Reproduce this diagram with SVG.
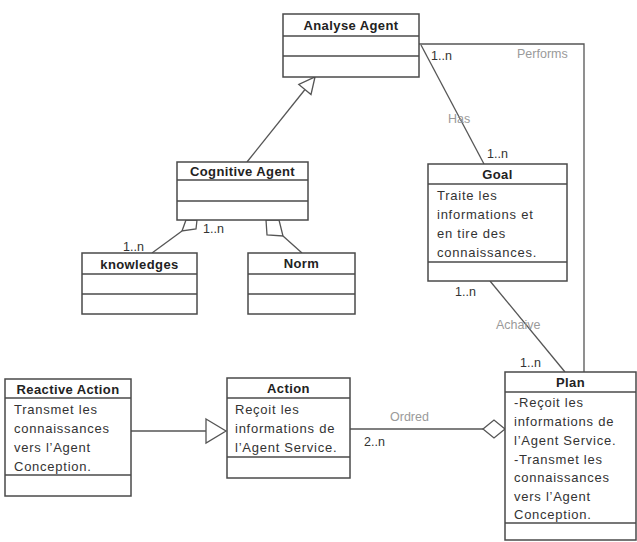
<svg xmlns="http://www.w3.org/2000/svg" width="637" height="542" viewBox="0 0 637 542">
<style>
.box{fill:#fff;stroke:#4a4a4a;stroke-width:1.5}
.div{stroke:#4a4a4a;stroke-width:1.5}
.title{font-family:"Liberation Sans",Arial,sans-serif;font-size:13px;font-weight:bold;fill:#222;text-anchor:middle;letter-spacing:0.4px}
.body{font-family:"Liberation Sans",Arial,sans-serif;font-size:13px;fill:#333;letter-spacing:0.75px}
.mult{font-family:"Liberation Sans",Arial,sans-serif;font-size:12.5px;fill:#333}
.lbl{font-family:"Liberation Sans",Arial,sans-serif;font-size:12.5px;fill:#9a9a9a}
.edge{fill:none;stroke:#555;stroke-width:1.3}
.head{fill:#fff;stroke:#555;stroke-width:1.3}
</style>
<rect width="637" height="542" fill="#fff"/>
<g id="connectors">
  <polyline class="edge" points="419,44 584,44 584,372"/>
  <line class="edge" x1="421" y1="45" x2="484" y2="164"/>
  <line class="edge" x1="247" y1="162" x2="305" y2="89.5"/>
  <polygon class="head" points="315,77 311,94.5 298.8,84.5"/>
  <line class="edge" x1="182" y1="231" x2="152" y2="253"/>
  <polygon class="head" points="186,220 197,220 196,229 182,231"/>
  <line class="edge" x1="283" y1="236" x2="302" y2="253"/>
  <polygon class="head" points="266,220 279,220 283,236 267,235"/>
  <line class="edge" x1="490" y1="281" x2="565" y2="372"/>
  <line class="edge" x1="131" y1="431" x2="206" y2="431"/>
  <polygon class="head" points="206,419 226,431 206,443"/>
  <line class="edge" x1="350" y1="429" x2="483" y2="429"/>
  <polygon class="head" points="483,429 494,420 505,429 494,438"/>
  <text class="mult" x="431" y="60">1..n</text>
  <text class="lbl" x="517" y="58">Performs</text>
  <text class="lbl" x="448" y="123">Has</text>
  <text class="mult" x="487" y="158">1..n</text>
  <text class="mult" x="203" y="233">1..n</text>
  <text class="mult" x="123" y="251">1..n</text>
  <text class="mult" x="455" y="296">1..n</text>
  <text class="lbl" x="496" y="329">Achaive</text>
  <text class="mult" x="520" y="367">1..n</text>
  <text class="lbl" x="390" y="421">Ordred</text>
  <text class="mult" x="364" y="446">2..n</text>
</g>
<g id="analyse-agent">
  <rect class="box" x="283" y="14" width="136" height="63"/>
  <line class="div" x1="283" y1="36" x2="419" y2="36"/>
  <line class="div" x1="283" y1="56" x2="419" y2="56"/>
  <text class="title" x="351" y="29.5">Analyse Agent</text>
</g>
<g id="cognitive-agent">
  <rect class="box" x="177" y="162" width="131" height="58"/>
  <line class="div" x1="177" y1="180" x2="308" y2="180"/>
  <line class="div" x1="177" y1="201" x2="308" y2="201"/>
  <text class="title" x="242.5" y="176">Cognitive Agent</text>
</g>
<g id="knowledges">
  <rect class="box" x="82" y="253" width="115" height="61"/>
  <line class="div" x1="82" y1="274" x2="197" y2="274"/>
  <line class="div" x1="82" y1="294" x2="197" y2="294"/>
  <text class="title" x="139.5" y="269">knowledges</text>
</g>
<g id="norm">
  <rect class="box" x="248" y="253" width="107" height="61"/>
  <line class="div" x1="248" y1="274" x2="355" y2="274"/>
  <line class="div" x1="248" y1="294" x2="355" y2="294"/>
  <text class="title" x="301.5" y="268">Norm</text>
</g>
<g id="goal">
  <rect class="box" x="428" y="164" width="139" height="117"/>
  <line class="div" x1="428" y1="184" x2="567" y2="184"/>
  <line class="div" x1="428" y1="262" x2="567" y2="262"/>
  <text class="title" x="497.5" y="179">Goal</text>
  <text class="body" x="437" y="200">Traite les</text>
  <text class="body" x="437" y="219">informations et</text>
  <text class="body" x="437" y="238">en tire des</text>
  <text class="body" x="437" y="257">connaissances.</text>
</g>
<g id="reactive-action">
  <rect class="box" x="5" y="379" width="126" height="117"/>
  <line class="div" x1="5" y1="398" x2="131" y2="398"/>
  <line class="div" x1="5" y1="475" x2="131" y2="475"/>
  <text class="title" x="68" y="393.5">Reactive Action</text>
  <text class="body" x="14" y="413.5">Transmet les</text>
  <text class="body" x="14" y="432.5">connaissances</text>
  <text class="body" x="14" y="451.5">vers l’Agent</text>
  <text class="body" x="14" y="470.5">Conception.</text>
</g>
<g id="action">
  <rect class="box" x="227" y="378" width="123" height="100"/>
  <line class="div" x1="227" y1="398" x2="350" y2="398"/>
  <line class="div" x1="227" y1="457" x2="350" y2="457"/>
  <text class="title" x="288.5" y="392.5">Action</text>
  <text class="body" x="235" y="414">Reçoit les</text>
  <text class="body" x="235" y="433">informations de</text>
  <text class="body" x="235" y="452">l’Agent Service.</text>
</g>
<g id="plan">
  <rect class="box" x="505" y="372" width="131" height="168"/>
  <line class="div" x1="505" y1="392" x2="636" y2="392"/>
  <line class="div" x1="505" y1="523" x2="636" y2="523"/>
  <text class="title" x="570.5" y="386.5">Plan</text>
  <text class="body" x="514" y="407">-Reçoit les</text>
  <text class="body" x="514" y="426">informations de</text>
  <text class="body" x="514" y="445">l’Agent Service.</text>
  <text class="body" x="514" y="463.5">-Transmet les</text>
  <text class="body" x="514" y="482">connaissances</text>
  <text class="body" x="514" y="500.5">vers l’Agent</text>
  <text class="body" x="514" y="519">Conception.</text>
</g>
</svg>
